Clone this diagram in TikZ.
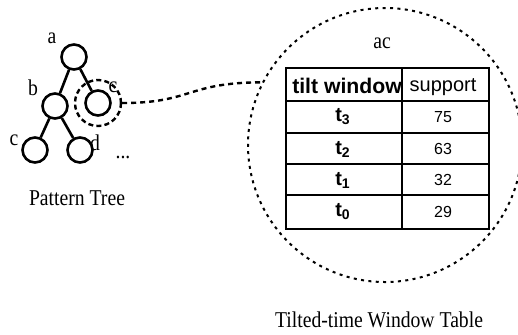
\documentclass[tikz,border=0pt]{standalone}
\usepackage{fontspec}
\setmainfont{Liberation Serif}[FakeStretch=0.87]
\setsansfont{Liberation Sans}
\usetikzlibrary{positioning}

\tikzset{
  treenode/.style={circle, draw, line width=1.3pt, minimum size=12.5pt, inner sep=0pt},
  treeedge/.style={line width=1.3pt},
  lbl/.style={inner sep=0pt, font=\fontsize{11.3}{13}\selectfont},
  ring/.style={circle, draw, line width=1.2pt, dash pattern=on 2.5pt off 1.6pt, minimum size=23pt, inner sep=0pt},
  zoomring/.style={circle, draw, line width=1pt, dash pattern=on 1.5pt off 2.2pt, minimum size=137pt, inner sep=0pt},
  dotline/.style={line width=1.2pt, dash pattern=on 2.5pt off 2pt},
  headcell/.style={inner sep=0pt, font=\sffamily\fontsize{10}{12}\selectfont},
  keycell/.style={inner sep=0pt, font=\sffamily\bfseries\fontsize{10}{11}\selectfont},
  valcell/.style={inner sep=0pt, font=\sffamily\fontsize{8}{9}\selectfont}
}

\begin{document}
\begin{tikzpicture}[x=0.5pt, y=-0.5pt, on grid]
  \useasboundingbox (0,0) rectangle (518,334);

  % pattern tree
  \node[treenode] (a) at (74,57) {};
  \node[treenode, below left=24.5pt and 9.5pt of a] (b) {};
  \node[treenode, below right=23pt and 12pt of a] (e) {};
  \node[treenode, below left=22pt and 10pt of b] (c) {};
  \node[treenode, below right=22pt and 12.5pt of b] (d) {};

  \node[lbl, above left=9.5pt and 11pt of a] (la) {a};
  \node[lbl, above left=9pt and 11pt of b] (lb) {b};
  \node[lbl, above right=8pt and 7.5pt of e] (le) {c};
  \node[lbl, above left=5pt and 10.5pt of c] (lc) {c};
  \node[lbl, above right=3.5pt and 7.5pt of d] (ld) {d};
  \node[lbl, below right=3.5pt and 21.5pt of d] (more) {...};

  \draw[treeedge] (a) -- (b);
  \draw[treeedge] (a) -- (e);
  \draw[treeedge] (b) -- (c);
  \draw[treeedge] (b) -- (d);

  \node[lbl] (treecap) at (77,198) {Pattern Tree};

  % zoomed node ac
  \node[ring] (sel) at (e) {};
  \node[zoomring] (zoom) at (385,145) {};
  \draw[dotline] (sel.east) .. controls +(70,0) and +(-75,0) .. (zoom.153);

  \node[lbl] (acname) at (382,43) {ac};

  % tilted-time window table
  \draw[line width=1.3pt] (286,68) rectangle (489,229);
  \draw[line width=0.6pt] (402,68) -- (402,229);
  \draw[line width=0.6pt] (286,101) -- (489,101);
  \draw[line width=0.6pt] (286,133) -- (489,133);
  \draw[line width=0.6pt] (286,164) -- (489,164);
  \draw[line width=0.6pt] (286,195) -- (489,195);

  \node[headcell, font=\sffamily\bfseries\fontsize{10.6}{12}\selectfont] (hkey) at (347,86) {tilt window};
  \node[headcell] (hval) at (443,87) {support};

  \node[keycell] (k3) at (343,117) {t\textsubscript{3}};
  \node[valcell] (v3) at (443,117) {75};
  \node[keycell] (k2) at (343,149) {t\textsubscript{2}};
  \node[valcell] (v2) at (443,149) {63};
  \node[keycell] (k1) at (343,180) {t\textsubscript{1}};
  \node[valcell] (v1) at (443,180) {32};
  \node[keycell] (k0) at (343,212) {t\textsubscript{0}};
  \node[valcell] (v0) at (443,212) {29};

  \node[lbl] (tblcap) at (379,320) {Tilted-time Window Table};
\end{tikzpicture}
\end{document}
